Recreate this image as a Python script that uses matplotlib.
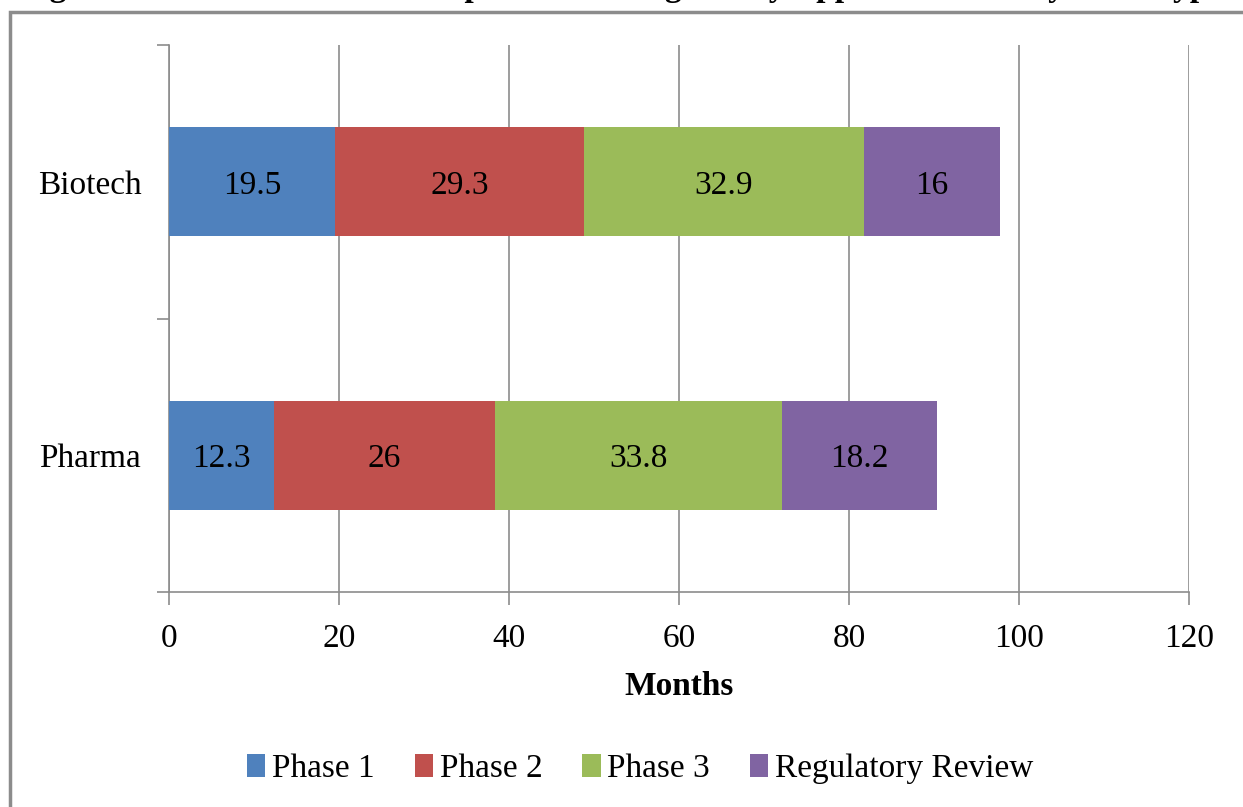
import numpy as np
import matplotlib.pyplot as plt
from matplotlib.patches import Rectangle

# dados (meses)
categorias = ['Pharma', 'Biotech']
fases = ['Phase 1', 'Phase 2', 'Phase 3', 'Regulatory Review']
phase1 = [12.3, 19.5]
phase2 = [26, 29.3]
phase3 = [33.8, 32.9]
regulatory = [18.2, 16]
cores = ['#4F81BD', '#C0504D', '#9BBB59', '#8064A2']
rotulos_x = [0, 20, 40, 60, 80, 100, 120]

plt.rcParams['font.family'] = ['Liberation Serif', 'DejaVu Serif']
tam = 24

fig = plt.figure(figsize=(12.43, 8.07), dpi=100)
ax = fig.add_axes([0.136, 0.2664, 0.8206, 0.6778])

# moldura cinza do grafico (cortada na direita/baixo)
fig.patches.append(Rectangle((10 / 1243, -0.05), 1.2, (807 - 12) / 807 + 0.05,
                             transform=fig.transFigure, fill=False,
                             edgecolor='#8c8c8c', linewidth=2.5))

# titulo cortado no topo
fig.text(0.5, 1 + 4 / 807, 'Figure 5: Mean Clinical Development and Regulatory Approval Times by Firm Type',
         ha='center', va='baseline', fontsize=tam, fontweight='bold')

y = np.arange(len(categorias))
esquerda = np.zeros(len(categorias))
for nome, valores, cor in zip(fases, [phase1, phase2, phase3, regulatory], cores):
    barras = ax.barh(y, valores, height=0.4, left=esquerda, color=cor, label=nome, zorder=3)
    for b, v in zip(barras, valores):
        ax.text(b.get_x() + b.get_width() / 2, b.get_y() + b.get_height() / 2,
                f'{v:g}', ha='center', va='center_baseline', fontsize=tam, zorder=4)
    esquerda += np.array(valores)

ax.set_xlim(0, 120)
ax.set_ylim(-0.5, 1.5)
ax.set_xticks(rotulos_x)
ax.set_yticks(y)
ax.set_yticklabels(categorias)
ax.set_yticks([-0.5, 0.5, 1.5], minor=True)
ax.tick_params(axis='y', which='major', length=0, labelsize=tam, pad=20)
ax.tick_params(axis='y', which='minor', length=9, width=1.2, color='#8c8c8c')
ax.tick_params(axis='x', length=9, width=1.2, color='#8c8c8c', labelsize=tam, pad=14)
ax.grid(axis='x', color='#8c8c8c', linewidth=1.2, zorder=0)

for lado in ['top', 'right']:
    ax.spines[lado].set_visible(False)
for lado in ['left', 'bottom']:
    ax.spines[lado].set_color('#8c8c8c')
    ax.spines[lado].set_linewidth(1.2)

ax.set_xlabel('Months', fontsize=tam, fontweight='bold', labelpad=12)

fig.legend(loc='center', bbox_to_anchor=(0.515, (807 - 769) / 807), ncol=4, frameon=False,
           fontsize=tam, handlelength=0.55, handleheight=0.65, handletextpad=0.2, columnspacing=1.2)

fig.savefig('out.png', dpi=100)
